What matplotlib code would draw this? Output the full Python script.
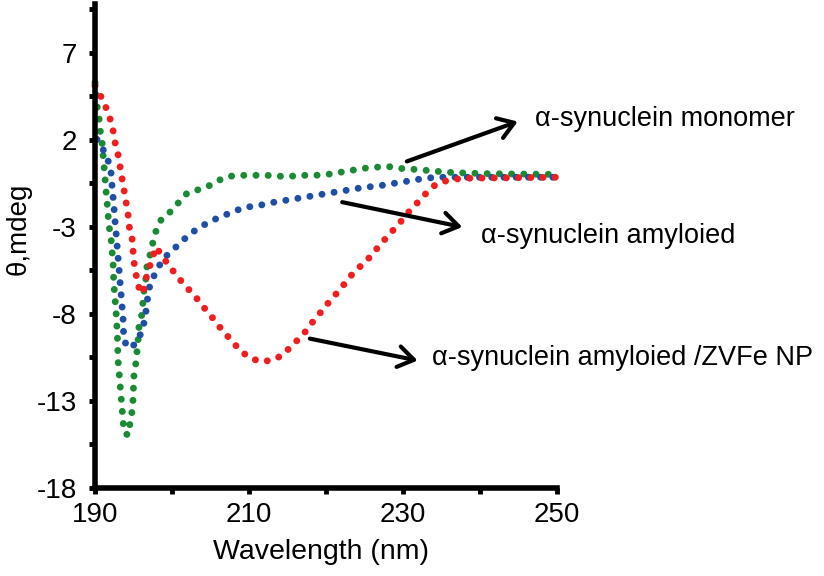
import matplotlib
matplotlib.use('Agg')
import matplotlib.pyplot as plt
from matplotlib.ticker import FixedLocator

plt.rcParams['font.family'] = ['Liberation Sans', 'DejaVu Sans']
plt.rcParams['axes.unicode_minus'] = False

# Courbe verte : alpha-synucleine monomere
x_monomer = [190.0, 190.13, 190.26, 190.52, 190.65, 190.91, 191.04, 191.17, 191.3, 191.43,
             191.56, 191.69, 191.82, 192.08, 192.21, 192.34, 192.4, 192.47, 192.6, 192.73,
             192.82, 192.9, 192.95, 192.99, 193.12, 193.25, 193.38, 193.51, 193.64, 193.77,
             194.29, 194.55, 194.81, 194.94, 195.0, 195.06, 195.32, 195.45, 195.6, 195.71,
             196.1, 196.23, 196.36, 196.62, 196.75, 197.14, 197.53, 197.92, 198.57, 199.74,
             200.78, 201.95, 203.25, 204.68, 206.1, 207.53, 209.22, 210.78, 212.34, 213.9,
             215.45, 217.0, 218.6, 220.26, 221.8, 223.4, 224.8, 226.4, 227.9, 229.6,
             231.3, 232.9, 234.4, 236.1, 237.7, 239.1, 240.6, 242.3, 248.7, 250.0]
y_monomer = [5.28, 4.71, 3.97, 3.28, 2.59, 1.91, 1.16, 0.48, -0.21, -0.95,
             -1.58, -2.27, -2.95, -3.64, -4.38, -5.01, -5.76, -6.44, -7.13, -7.87,
             -8.56, -9.25, -9.93, -10.68, -11.31, -12.05, -12.74, -13.42, -14.11, -14.8,
             -14.97, -14.28, -13.6, -12.91, -12.17, -11.54, -10.79, -10.16, -9.48, -8.73,
             -7.99, -7.3, -6.67, -5.93, -5.24, -4.61, -3.87, -3.24, -2.61, -2.15,
             -1.64, -1.07, -0.89, -0.67, -0.32, -0.09, -0.04, -0.04, -0.04, -0.09,
             -0.09, -0.04, -0.04, 0.02, 0.13, 0.25, 0.36, 0.42, 0.48, 0.36,
             0.31, 0.25, 0.19, 0.13, 0.1, 0.08, 0.06, 0.05, 0.02, 0.02]

# Courbe bleue : alpha-synucleine amyloide
x_amyloid = [190.26, 191.04, 191.69, 192.08, 192.21, 192.34, 192.47, 192.6, 192.73, 192.86,
             192.99, 193.12, 193.25, 193.38, 193.51, 193.64, 193.7, 193.77, 194.68, 195.58,
             196.23, 196.49, 196.75, 196.88, 197.27, 198.05, 198.83, 200.0, 201.17, 202.34,
             203.64, 205.06, 206.49, 207.92, 209.35, 211.04, 212.47, 214.16, 215.71, 217.14,
             218.83, 220.26, 221.95, 223.51, 224.94, 226.62, 228.05, 229.74, 231.3, 232.86,
             234.4, 250.0]
y_amyloid = [2.02, 1.45, 0.82, 0.13, -0.61, -1.24, -1.92, -2.67, -3.3, -4.04,
             -4.73, -5.41, -6.16, -6.84, -7.53, -8.22, -8.96, -9.59, -9.99, -9.48,
             -8.85, -8.16, -7.53, -6.79, -6.16, -5.47, -4.84, -4.38, -3.87, -3.41,
             -3.01, -2.67, -2.38, -2.15, -1.87, -1.81, -1.64, -1.52, -1.41, -1.3,
             -1.18, -1.07, -0.95, -0.84, -0.72, -0.67, -0.55, -0.44, -0.32, -0.21,
             -0.15, -0.15]

# Courbe rouge : alpha-synucleine amyloide / ZVFe NP
x_zvfe = [190.0, 190.78, 191.43, 191.95, 192.34, 192.6, 192.99, 193.25, 193.51, 193.77,
          194.03, 194.29, 194.42, 194.81, 194.94, 195.06, 195.32, 195.58, 196.23, 196.49,
          197.01, 197.4, 197.92, 198.7, 199.61, 200.65, 201.69, 202.73, 203.77, 204.68,
          205.71, 206.62, 207.79, 208.7, 209.87, 211.3, 212.86, 214.29, 215.45, 216.62,
          217.66, 218.57, 219.61, 220.52, 221.56, 222.6, 223.64, 224.81, 225.84, 226.88,
          227.92, 228.96, 230.0, 231.04, 232.08, 233.12, 234.29, 235.84, 237.66, 250.0]
y_zvfe = [5.11, 4.48, 3.85, 3.22, 2.54, 1.85, 1.16, 0.48, -0.21, -0.89,
          -1.58, -2.27, -2.95, -3.64, -4.38, -5.01, -5.7, -6.39, -6.84, -6.16,
          -5.41, -4.84, -4.16, -4.67, -5.24, -5.81, -6.39, -6.84, -7.42, -7.93,
          -8.45, -9.02, -9.53, -10.05, -10.45, -10.73, -10.68, -10.39, -9.88, -9.36,
          -8.85, -8.27, -7.76, -7.24, -6.73, -6.16, -5.59, -5.13, -4.67, -4.1,
          -3.58, -3.07, -2.55, -1.98, -1.52, -1.01, -0.55, -0.32, -0.21, -0.15]

labels = ['α-synuclein monomer', 'α-synuclein amyloied', 'α-synuclein amyloied /ZVFe NP']

fig = plt.figure(figsize=(8.24, 5.76), dpi=100)
ax = fig.add_axes([0.1153, 0.1528, 0.5607, 0.8402])

# lignes en pointilles ronds
dots = (0, (0.01, 1.75))
for xs, ys, c in [(x_monomer, y_monomer, '#1a8a35'),
                  (x_amyloid, y_amyloid, '#1f4fa5'),
                  (x_zvfe, y_zvfe, '#f01e1e')]:
    ax.plot(xs, ys, color=c, lw=5, linestyle=dots, dash_capstyle='round', clip_on=False)

ax.set_xlim(190, 250)
ax.set_ylim(-18, 9.8)
ax.xaxis.set_major_locator(FixedLocator([190, 210, 230, 250]))
ax.xaxis.set_minor_locator(FixedLocator([200, 220, 240]))
ax.yaxis.set_major_locator(FixedLocator([-18, -13, -8, -3, 2, 7]))
ax.yaxis.set_minor_locator(FixedLocator([-15.5, -10.5, -5.5, -0.5, 4.5, 9.5]))

for s in ['top', 'right']:
    ax.spines[s].set_visible(False)
for s in ['left', 'bottom']:
    ax.spines[s].set_linewidth(4)
    ax.spines[s].set_capstyle('projecting')

ax.tick_params(axis='both', which='both', direction='out', width=3.5, length=4, labelsize=20)
ax.tick_params(axis='y', which='major', pad=9)
ax.tick_params(axis='x', which='major', pad=6)

fig.text(19 / 824, 1 - 229 / 576, 'θ,mdeg', rotation=90, ha='center', va='center', fontsize=20)
fig.text(321 / 824, 1 - 552 / 576, 'Wavelength (nm)', ha='center', va='center', fontsize=20.5)

# fleches et textes
arrow_tails = [(230.5, 0.76), (222.1, -1.58), (217.9, -9.42)]
arrow_tips = [(244.9, 3.05), (237.7, -3.01), (231.9, -10.68)]
text_pos = [(247.1, 3.17), (240.1, -3.53), (233.8, -10.56)]
for lab, tail, tip, pos in zip(labels, arrow_tails, arrow_tips, text_pos):
    ax.annotate('', xy=tip, xytext=tail, annotation_clip=False,
                arrowprops=dict(arrowstyle='->,head_length=0.45,head_width=0.3',
                                lw=3, color='black', mutation_scale=25,
                                shrinkA=0, shrinkB=0))
    ax.text(pos[0], pos[1], lab, fontsize=19.5, ha='left', va='center', clip_on=False)

plt.savefig('out.png', dpi=100)
